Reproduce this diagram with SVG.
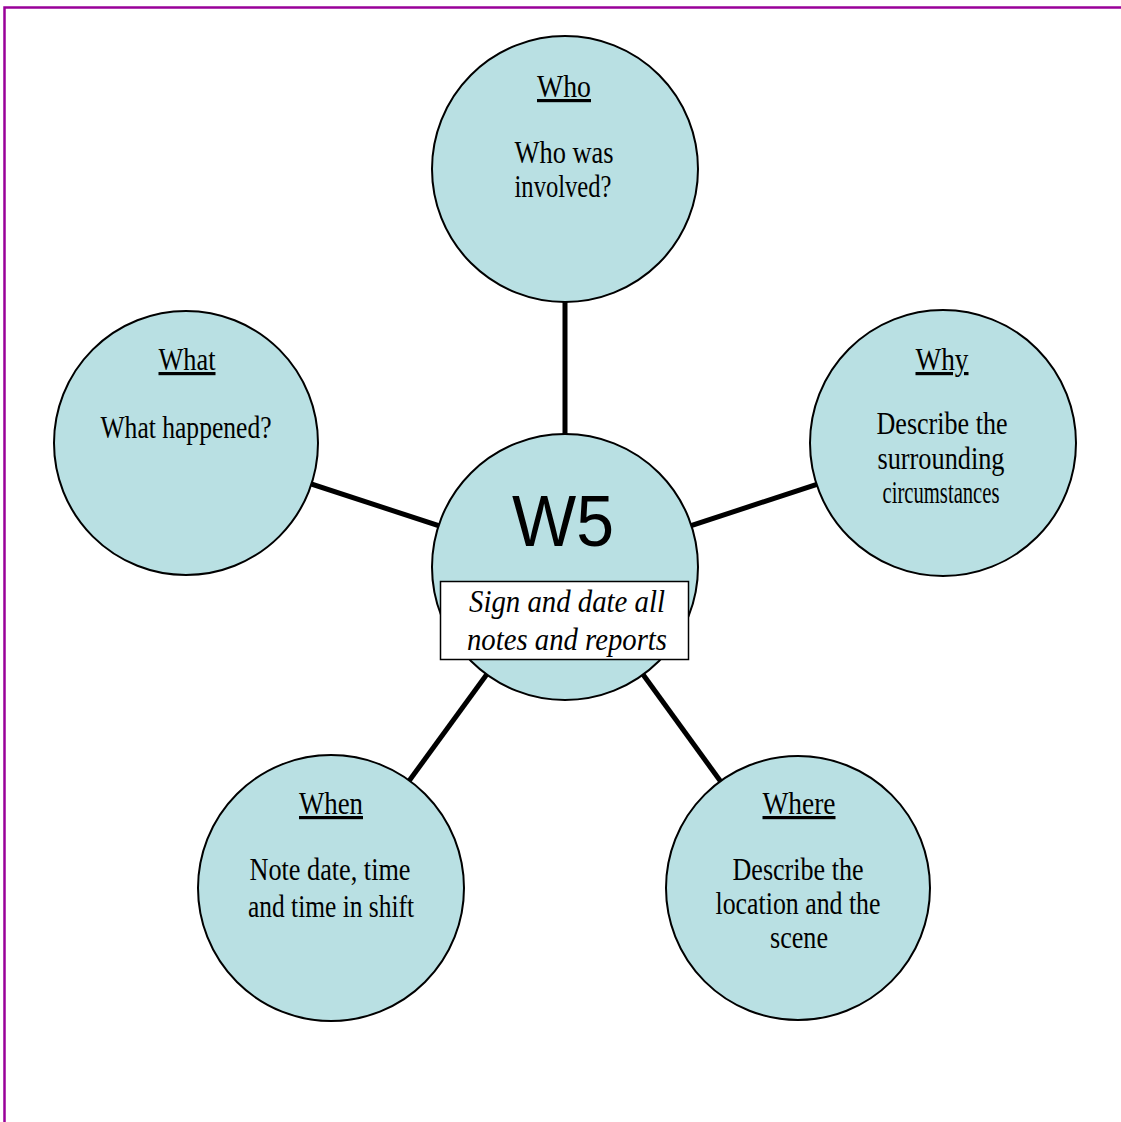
<svg xmlns="http://www.w3.org/2000/svg" width="1121" height="1122" viewBox="0 0 1121 1122">
<style>
.c{fill:#b9e0e3;stroke:#000;stroke-width:2}
.t{font-family:"Liberation Serif","Times New Roman",serif;font-size:32px;fill:#000;text-anchor:middle}
.h{text-decoration:underline}
.l{stroke:#000;stroke-width:5}
</style>
<rect x="4.5" y="7.5" width="1130" height="1130" fill="#fff" stroke="#990099" stroke-width="2.5"/>
<g id="connectors">
<line class="l" x1="565" y1="169" x2="565" y2="567"/>
<line class="l" x1="186" y1="443" x2="565" y2="567"/>
<line class="l" x1="943" y1="443" x2="565" y2="567"/>
<line class="l" x1="331" y1="888" x2="565" y2="567"/>
<line class="l" x1="798" y1="888" x2="565" y2="567"/>
</g>
<g id="who">
<circle class="c" cx="565" cy="169" r="133"/>
<text class="t h" x="564" y="97" textLength="54" lengthAdjust="spacingAndGlyphs">Who</text>
<text class="t" x="564" y="163" textLength="99" lengthAdjust="spacingAndGlyphs">Who was</text>
<text class="t" x="563" y="197" textLength="97" lengthAdjust="spacingAndGlyphs">involved?</text>
</g>
<g id="what">
<circle class="c" cx="186" cy="443" r="132"/>
<text class="t h" x="187" y="370" textLength="57" lengthAdjust="spacingAndGlyphs">What</text>
<text class="t" x="186" y="438" textLength="171" lengthAdjust="spacingAndGlyphs">What happened?</text>
</g>
<g id="why">
<circle class="c" cx="943" cy="443" r="133"/>
<text class="t h" x="942" y="370" textLength="53" lengthAdjust="spacingAndGlyphs">Why</text>
<text class="t" x="942" y="434" textLength="131" lengthAdjust="spacingAndGlyphs">Describe the</text>
<text class="t" x="941" y="469" textLength="127" lengthAdjust="spacingAndGlyphs">surrounding</text>
<text class="t" x="941" y="503" textLength="117" lengthAdjust="spacingAndGlyphs">circumstances</text>
</g>
<g id="when">
<circle class="c" cx="331" cy="888" r="133"/>
<text class="t h" x="331" y="814" textLength="64" lengthAdjust="spacingAndGlyphs">When</text>
<text class="t" x="330" y="880" textLength="161" lengthAdjust="spacingAndGlyphs">Note date, time</text>
<text class="t" x="331" y="917" textLength="166" lengthAdjust="spacingAndGlyphs">and time in shift</text>
</g>
<g id="where">
<circle class="c" cx="798" cy="888" r="132"/>
<text class="t h" x="799" y="814" textLength="73" lengthAdjust="spacingAndGlyphs">Where</text>
<text class="t" x="798" y="880" textLength="131" lengthAdjust="spacingAndGlyphs">Describe the</text>
<text class="t" x="798" y="914" textLength="165" lengthAdjust="spacingAndGlyphs">location and the</text>
<text class="t" x="799" y="948" textLength="58" lengthAdjust="spacingAndGlyphs">scene</text>
</g>
<g id="w5">
<circle class="c" cx="565" cy="567" r="133"/>
<text x="563" y="546" font-family="Liberation Sans,Arial,sans-serif" font-size="73" text-anchor="middle" textLength="102" lengthAdjust="spacingAndGlyphs">W5</text>
<rect x="440.5" y="581.5" width="248" height="78" fill="#fff" stroke="#000" stroke-width="1.5"/>
<text class="t" x="567" y="612" font-size="29" font-style="italic" textLength="196" lengthAdjust="spacingAndGlyphs">Sign and date all</text>
<text class="t" x="567" y="650" font-size="29" font-style="italic" textLength="200" lengthAdjust="spacingAndGlyphs">notes and reports</text>
</g>
</svg>
